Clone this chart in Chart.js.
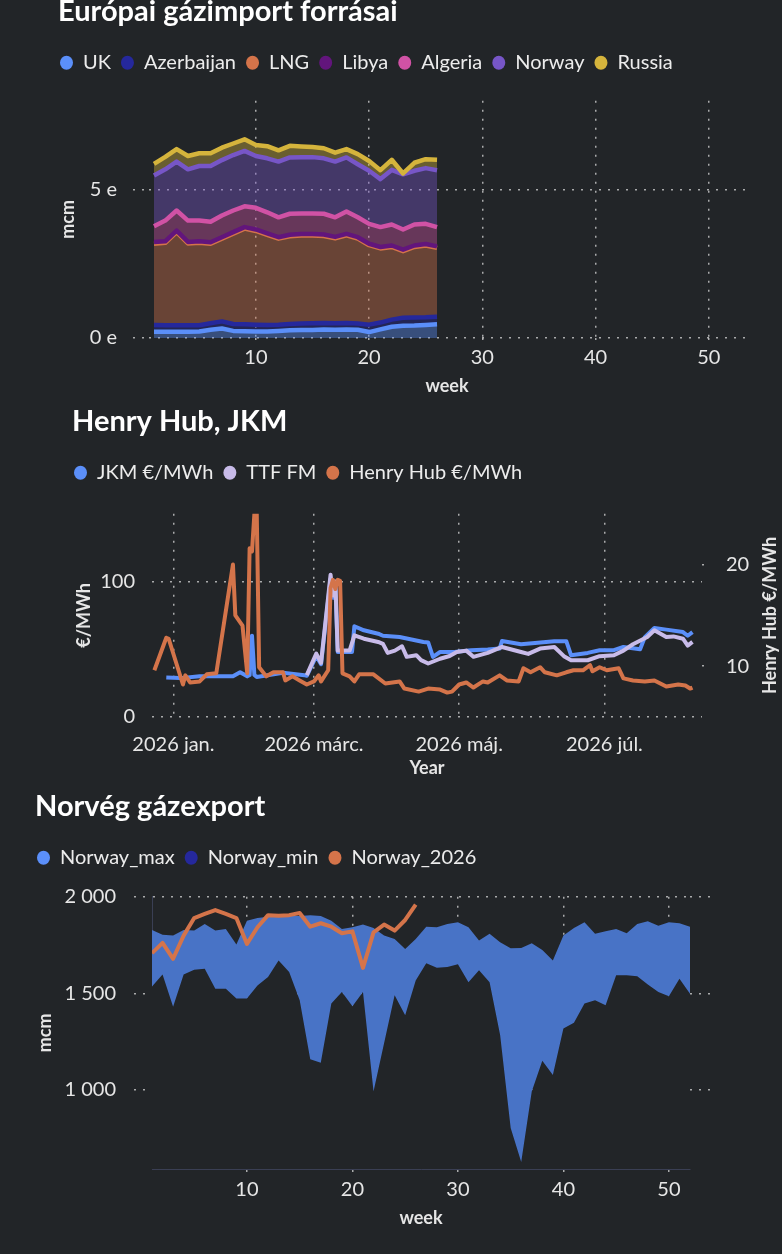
<!DOCTYPE html>
<html lang="hu">
<head>
<meta charset="utf-8">
<title>Gázpiac</title>
<script src="https://cdn.jsdelivr.net/npm/chart.js@4.4.1/dist/chart.umd.min.js"></script>
<style>
  html, body { margin: 0; padding: 0; background: #222528; overflow: hidden; }
  body { width: 782px; height: 1254px; position: relative; }
  .box { position: absolute; left: 0; width: 782px; }
  #box1 { top: -10px; height: 410px; }
  #box2 { top: 400px; height: 385px; }
  #box3 { top: 785px; height: 469px; }
</style>
</head>
<body>
<div class="box" id="box1"><canvas id="importChart"></canvas></div>
<div class="box" id="box2"><canvas id="priceChart"></canvas></div>
<div class="box" id="box3"><canvas id="norwayChart"></canvas></div>
<script>
// --- Európai gázimport forrásai (stacked, mcm per week) ---
const importWeeks = [1, 2, 3, 4, 5, 6, 7, 8, 9, 10, 11, 12, 13, 14, 15, 16, 17, 18, 19, 20, 21, 22, 23, 24, 25, 26];
const ukValues = [210, 210, 210, 210, 220, 280, 320, 240, 230, 220, 220, 240, 260, 270, 270, 290, 280, 290, 280, 200, 290, 380, 410, 420, 440, 460];
const azerbaijanValues = [230, 220, 220, 220, 210, 220, 240, 230, 230, 230, 220, 210, 210, 220, 230, 220, 220, 220, 210, 250, 230, 240, 270, 270, 260, 260];
const lngValues = [2740, 2780, 3140, 2760, 2780, 2680, 2790, 3050, 3230, 3160, 3040, 2900, 2960, 2970, 2960, 2930, 2860, 2950, 2860, 2680, 2500, 2450, 2250, 2380, 2420, 2320];
const libyaValues = [60, 50, 50, 50, 50, 50, 50, 50, 50, 50, 50, 50, 50, 50, 50, 50, 50, 50, 50, 50, 50, 50, 50, 50, 50, 50];
const algeriaValues = [530, 700, 680, 720, 700, 690, 730, 730, 700, 730, 710, 670, 710, 690, 690, 700, 660, 760, 670, 670, 670, 710, 680, 710, 680, 650];
const norwayValues = [1710, 1730, 1650, 1730, 1840, 1880, 1870, 1870, 1870, 1750, 1820, 1880, 1900, 1900, 1900, 1870, 1880, 1820, 1790, 1790, 1620, 1840, 1860, 1810, 1880, 1920];
const russiaValues = [390, 420, 420, 450, 430, 430, 420, 390, 390, 370, 410, 380, 390, 360, 340, 340, 300, 280, 340, 330, 300, 340, 30, 270, 300, 350];
const importWeekTicks = [10, 20, 30, 40, 50];
const importValueTicks = [0, 5000];

// --- Henry Hub, JKM (x = days since 2026-01-01) ---
const jkmDays = [-3, 3, 11, 25, 28, 31, 32, 33, 34, 35, 46, 55, 56, 60, 62, 66, 67, 68, 69, 71, 75, 76, 80, 86, 88, 95, 105, 107, 109, 112, 118, 125, 132, 137, 138, 146, 160, 165, 167, 174, 179, 185, 189, 196, 198, 202, 207, 214, 216, 218];
const jkmValues = [29.2, 28.7, 30.1, 30, 33, 30, 31, 60, 31, 29.6, 32.6, 30.9, 30.4, 45, 39, 102, 88, 98, 48, 48, 48, 67, 64, 61.5, 60, 59, 55.4, 55, 44.4, 48, 48, 49.3, 49.8, 50.5, 56.1, 53.7, 56, 56, 45.6, 47.3, 49.3, 49.3, 51.7, 50, 59, 65.7, 64.5, 62.7, 60, 62.7];
const ttfDays = [56, 60, 62, 66, 67, 68, 69, 74, 76, 80, 86, 88, 90, 93, 96, 98, 102, 104, 107, 112, 116, 119, 123, 126, 132, 138, 146, 149, 154, 160, 164, 167, 174, 179, 185, 189, 193, 199, 202, 207, 210, 214, 216, 218];
const ttfValues = [30.9, 46.8, 40, 105, 89.7, 100, 49, 49, 60.3, 57.8, 55.4, 54, 47.3, 49, 52.2, 44.4, 45.6, 42, 39.5, 43, 45, 48, 49, 44.4, 47.3, 51.7, 48, 46.6, 50.5, 51.7, 44.9, 41.9, 41.9, 44.9, 45.6, 49, 53.7, 59, 64, 59, 59.5, 57.8, 52.7, 55.4];
const hhDays = [-8, -3, -2, 4, 5, 7, 11, 14, 18, 25, 26, 29, 31, 32, 33, 34, 35, 36, 39, 42, 46, 47, 50, 53, 56, 59, 61, 62, 65, 66, 67, 68, 69, 70, 71, 74, 76, 78, 84, 89, 95, 97, 103, 107, 112, 115, 117, 120, 123, 126, 130, 132, 137, 140, 145, 147, 150, 154, 156, 161, 165, 168, 172, 175, 176, 179, 182, 187, 189, 193, 198, 202, 207, 212, 215, 217, 218];
const hhValues = [9.6, 12.8, 12.7, 8.2, 9.1, 8.4, 8.5, 9.2, 9.3, 20.0, 15.0, 14.0, 9.3, 21.6, 21.3, 25, 25, 9.9, 9.0, 9.4, 9.4, 8.6, 9.0, 8.6, 8.2, 8.5, 9.1, 8.5, 9.6, 17.7, 18.5, 17.6, 18.5, 18.4, 9.3, 9.0, 8.5, 9.2, 9.2, 8.3, 8.5, 7.8, 7.5, 7.8, 7.7, 7.4, 7.5, 8.2, 8.4, 7.9, 8.5, 8.4, 9.1, 8.6, 8.5, 9.8, 9.4, 9.9, 9.4, 9.1, 9.4, 9.6, 9.6, 10.1, 9.5, 9.9, 9.6, 9.8, 8.8, 8.6, 8.5, 8.6, 8.0, 8.2, 8.1, 7.8, 7.9];
const monthTickDays = [0, 59, 120, 181];
const monthTickLabels = ['2026 jan.', '2026 márc.', '2026 máj.', '2026 júl.'];
const priceTicks = [0, 100];
const henryHubTicks = [10, 20];

// --- Norvég gázexport (mcm per week) ---
const norwayWeeks = [1, 2, 3, 4, 5, 6, 7, 8, 9, 10, 11, 12, 13, 14, 15, 16, 17, 18, 19, 20, 21, 22, 23, 24, 25, 26, 27, 28, 29, 30, 31, 32, 33, 34, 35, 36, 37, 38, 39, 40, 41, 42, 43, 44, 45, 46, 47, 48, 49, 50, 51, 52];
const norwayMax = [1828, 1804, 1799, 1828, 1825, 1859, 1825, 1833, 1753, 1876, 1890, 1897, 1897, 1902, 1900, 1904, 1900, 1876, 1833, 1842, 1856, 1839, 1799, 1782, 1730, 1782, 1845, 1842, 1859, 1868, 1842, 1773, 1808, 1765, 1734, 1735, 1760, 1725, 1670, 1799, 1838, 1868, 1808, 1821, 1833, 1811, 1859, 1873, 1850, 1868, 1863, 1845];
const norwayMin = [1536, 1598, 1430, 1598, 1622, 1627, 1524, 1524, 1473, 1473, 1541, 1584, 1670, 1610, 1464, 1158, 1141, 1447, 1507, 1433, 1507, 992, 1241, 1490, 1387, 1567, 1656, 1632, 1636, 1650, 1558, 1619, 1558, 1284, 803, 626, 992, 1151, 1077, 1318, 1347, 1447, 1464, 1438, 1593, 1593, 1588, 1546, 1507, 1485, 1576, 1498];
const norway2026 = [1708, 1761, 1679, 1799, 1890, 1911, 1931, 1911, 1890, 1756, 1842, 1905, 1902, 1905, 1916, 1845, 1863, 1845, 1811, 1821, 1632, 1816, 1856, 1825, 1880, 1959];
const norwayWeekTicks = [10, 20, 30, 40, 50];
const norwayValueTicks = [1000, 1500, 2000];

Chart.defaults.font.family = "Lato, 'Noto Sans', sans-serif";
Chart.defaults.color = '#e6e6e6';
Chart.defaults.animation = false;

const BG = '#222528';
const GRID = 'rgba(205, 205, 205, 0.8)';
const DOTS = [2, 7];
const dotted = { color: GRID, lineWidth: 1.5, tickColor: GRID, tickWidth: 1.5, tickBorderDash: DOTS };
const tickFont = { size: 20 };
const axisTitleFont = { size: 18, weight: 'bold' };

function fade(hex, a) {
    const n = parseInt(hex.slice(1), 16);
    return `rgba(${n >> 16}, ${(n >> 8) & 255}, ${n & 255}, ${a})`;
}
function pts(xs, ys) {
    return xs.map((x, i) => ({ x: x, y: ys[i] }));
}
function pinTicks(list) {
    return scale => { scale.ticks = list.map(v => ({ value: v })); };
}
function spaced(v) {
    return String(v).replace(/\B(?=(\d{3})+(?!\d))/g, ' ');
}

// pads the legend box and nudges the title so the plot areas sit where the original ones do
const boxTweak = {
    id: 'boxTweak',
    beforeUpdate(chart, args, opts) {
        const legend = chart.legend;
        if (legend && !legend.tweaked) {
            const fit = legend.fit;
            legend.fit = function () {
                fit.call(this);
                this.height += opts.legendExtra || 0;
            };
            legend.tweaked = true;
        }
    },
    afterLayout(chart, args, opts) {
        if (chart.titleBlock) {
            chart.titleBlock.left += opts.titleShift || 0;
        }
    },
    afterDraw(chart, args, opts) {
        // right axis title reads bottom-to-top in the original
        if (!opts.sideTitle) return;
        const { ctx, chartArea } = chart;
        ctx.save();
        ctx.translate(opts.sideTitleX, (chartArea.top + chartArea.bottom) / 2);
        ctx.rotate(-Math.PI / 2);
        ctx.font = "bold 18px Lato, 'Noto Sans', sans-serif";
        ctx.fillStyle = '#e6e6e6';
        ctx.textAlign = 'center';
        ctx.textBaseline = 'middle';
        ctx.fillText(opts.sideTitle, 0, 0);
        ctx.restore();
    }
};

function titleOpts(text) {
    return { display: true, text: text, align: 'start', color: '#ffffff', font: { size: 29, weight: 'bold' }, padding: { top: 4, bottom: 14 } };
}
function legendOpts() {
    return {
        display: true, position: 'top', align: 'start',
        labels: {
            usePointStyle: true, pointStyle: 'circle', boxHeight: 10, pointStyleWidth: 13,
            padding: 10, color: '#ececec', font: { size: 20 },
            sort: (a, b) => a.datasetIndex - b.datasetIndex
        }
    };
}

// Chart 1
const importSeries = [
    ['UK', ukValues, '#5b8ff9'],
    ['Azerbaijan', azerbaijanValues, '#25289c'],
    ['LNG', lngValues, '#d4744a'],
    ['Libya', libyaValues, '#62157c'],
    ['Algeria', algeriaValues, '#d052a5'],
    ['Norway', norwayValues, '#7756c7'],
    ['Russia', russiaValues, '#d5b43c']
];

// running totals, so each layer can be drawn over the one below it
let running = importWeeks.map(() => 0);
const importLayers = importSeries.map(([label, vals, col]) => {
    running = running.map((r, k) => r + vals[k]);
    return { label: label, col: col, tops: running.slice() };
});

new Chart(document.getElementById('importChart'), {
    type: 'line',
    data: {
        datasets: importLayers.map((layer, i) => ({
            label: layer.label,
            data: pts(importWeeks, layer.tops),
            order: -i, // upper layers drawn over lower ones
            borderColor: layer.col,
            backgroundColor: fade(layer.col, 0.4),
            pointBackgroundColor: layer.col,
            pointBorderWidth: 0,
            pointRadius: 0,
            borderWidth: 4.5,
            borderJoinStyle: 'round',
            fill: i === 0 ? 'origin' : '-1',
            tension: 0
        }))
    },
    plugins: [boxTweak],
    options: {
        responsive: true,
        maintainAspectRatio: false,
        layout: { padding: { left: 50, right: 37, top: 0, bottom: 0 } },
        plugins: {
            title: titleOpts('Európai gázimport forrásai'),
            legend: legendOpts(),
            tooltip: { enabled: false },
            filler: { drawTime: 'beforeDatasetsDraw' },
            boxTweak: { legendExtra: 18, titleShift: 8 }
        },
        scales: {
            x: {
                type: 'linear', min: 0.56, max: 53.2,
                afterBuildTicks: pinTicks(importWeekTicks),
                afterFit: s => { s.height = 62; },
                grid: { ...dotted, drawTicks: true, tickLength: 3 },
                border: { display: false, dash: DOTS },
                ticks: { padding: 5, font: tickFont, autoSkip: false, maxRotation: 0 },
                title: { display: true, text: 'week', font: axisTitleFont, padding: { top: 0, bottom: 3 } }
            },
            y: {
                min: 0, max: 8000,
                afterBuildTicks: pinTicks(importValueTicks),
                afterFit: s => { s.width = 99; },
                grid: { ...dotted, drawTicks: true, tickLength: 16 },
                border: { display: false, dash: DOTS },
                ticks: { padding: 16, font: tickFont, callback: v => (v / 1000) + ' e' },
                title: { display: true, text: 'mcm', font: axisTitleFont, padding: { top: 7, bottom: 0 } }
            }
        }
    }
});

// Chart 2
new Chart(document.getElementById('priceChart'), {
    type: 'line',
    data: {
        datasets: [
            { label: 'JKM €/MWh', data: pts(jkmDays, jkmValues), yAxisID: 'y', order: 2, borderColor: '#5b8ff9', pointBackgroundColor: '#5b8ff9' },
            { label: 'TTF FM', data: pts(ttfDays, ttfValues), yAxisID: 'y', order: 1, borderColor: '#c8bbe9', pointBackgroundColor: '#c8bbe9' },
            { label: 'Henry Hub €/MWh', data: pts(hhDays, hhValues), yAxisID: 'y2', order: 0, borderColor: '#d4744a', pointBackgroundColor: '#d4744a' }
        ].map(d => Object.assign(d, { borderWidth: 4, pointRadius: 0, pointBorderWidth: 0, fill: false, tension: 0, borderJoinStyle: 'round' }))
    },
    plugins: [boxTweak],
    options: {
        responsive: true,
        maintainAspectRatio: false,
        layout: { padding: { left: 64, right: 4, top: 0, bottom: 0 } },
        plugins: {
            title: titleOpts('Henry Hub, JKM'),
            legend: legendOpts(),
            tooltip: { enabled: false },
            boxTweak: { legendExtra: 21, titleShift: 8, sideTitle: 'Henry Hub €/MWh', sideTitleX: 770 }
        },
        scales: {
            x: {
                type: 'linear', min: -9, max: 222,
                afterBuildTicks: pinTicks(monthTickDays),
                afterFit: s => { s.height = 68; },
                grid: { ...dotted, drawTicks: false },
                border: { display: false, dash: DOTS },
                ticks: { padding: 16, font: tickFont, autoSkip: false, maxRotation: 0, callback: v => monthTickLabels[monthTickDays.indexOf(v)] },
                title: { display: true, text: 'Year', font: axisTitleFont, padding: { top: 0, bottom: 6 } }
            },
            y: {
                position: 'left', min: 0, max: 150,
                afterBuildTicks: pinTicks(priceTicks),
                afterFit: s => { s.width = 88; },
                grid: { ...dotted, drawTicks: false },
                border: { display: false, dash: DOTS },
                ticks: { padding: 17, font: tickFont },
                title: { display: true, text: '€/MWh', font: axisTitleFont, padding: { top: 9, bottom: 0 } }
            },
            y2: {
                position: 'right', min: 5, max: 25,
                afterBuildTicks: pinTicks(henryHubTicks),
                afterFit: s => { s.width = 76; },
                grid: { ...dotted, drawOnChartArea: false, drawTicks: true, tickLength: 8 },
                border: { display: false, dash: DOTS },
                ticks: { padding: 16, font: tickFont },
                title: { display: false }
            }
        }
    }
});

// Chart 3
new Chart(document.getElementById('norwayChart'), {
    type: 'line',
    data: {
        datasets: [
            {
                label: 'Norway_max', data: pts(norwayWeeks, norwayMax), order: 1,
                borderColor: 'rgba(0,0,0,0)', borderWidth: 0, backgroundColor: '#4873c6',
                pointBackgroundColor: '#5b8ff9', fill: '+1'
            },
            {
                label: 'Norway_min', data: pts(norwayWeeks, norwayMin), order: 2,
                borderColor: 'rgba(0,0,0,0)', borderWidth: 0, backgroundColor: BG, // hides the grid below the band
                pointBackgroundColor: '#25289c', fill: 'start'
            },
            {
                label: 'Norway_2026', data: pts(norwayWeeks.slice(0, norway2026.length), norway2026), order: 0,
                borderColor: '#d4744a', borderWidth: 4, borderJoinStyle: 'round',
                pointBackgroundColor: '#d4744a', fill: false
            }
        ].map(d => Object.assign(d, { pointRadius: 0, pointBorderWidth: 0, tension: 0 }))
    },
    plugins: [boxTweak],
    options: {
        responsive: true,
        maintainAspectRatio: false,
        layout: { padding: { left: 27, right: 62, top: 0, bottom: 0 } },
        plugins: {
            title: titleOpts('Norvég gázexport'),
            legend: legendOpts(),
            tooltip: { enabled: false },
            boxTweak: { legendExtra: 19, titleShift: 8 }
        },
        scales: {
            x: {
                type: 'linear', min: 1, max: 52,
                afterBuildTicks: pinTicks(norwayWeekTicks),
                afterFit: s => { s.height = 85; },
                grid: { ...dotted, drawTicks: true, tickLength: 4 },
                border: { display: true, color: '#3a3f54', width: 1, dash: DOTS },
                ticks: { padding: 5, font: tickFont, autoSkip: false, maxRotation: 0 },
                title: { display: true, text: 'week', font: axisTitleFont, padding: { top: 0, bottom: 25 } }
            },
            y: {
                position: 'left', min: 590, max: 2000,
                afterBuildTicks: pinTicks(norwayValueTicks),
                afterFit: s => { s.width = 125; },
                grid: { ...dotted, drawTicks: true, tickLength: 18 },
                border: { display: true, color: '#3a3f54', width: 1, dash: DOTS },
                ticks: { padding: 18, font: tickFont, callback: v => spaced(v) },
                title: { display: true, text: 'mcm', font: axisTitleFont, padding: { top: 7, bottom: 0 } }
            },
            y2: {
                position: 'right', min: 590, max: 2000,
                afterBuildTicks: pinTicks(norwayValueTicks),
                afterFit: s => { s.width = 30; },
                grid: { ...dotted, drawOnChartArea: false, drawTicks: true, tickLength: 27 },
                border: { display: false },
                ticks: { display: false }
            }
        }
    }
});
</script>
</body>
</html>
